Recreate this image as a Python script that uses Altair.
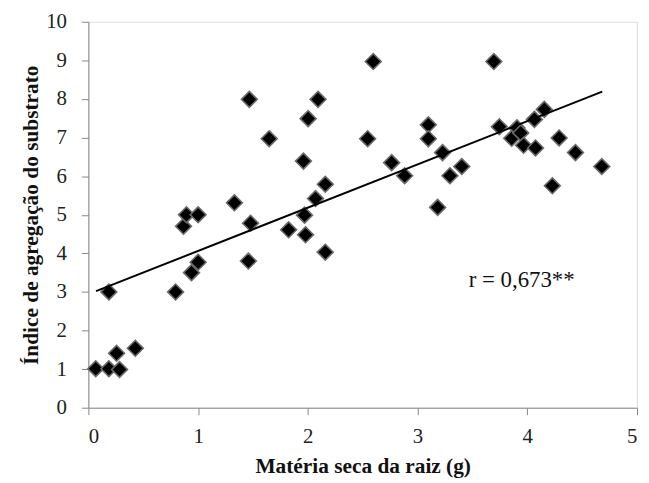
import altair as alt
import pandas as pd

# Matéria seca da raiz (g)
x_vals = [0.067, 0.187, 0.187, 0.257, 0.284, 0.428, 0.795, 0.94, 1.0, 0.867,
          0.894, 1.0, 1.331, 1.458, 1.478, 1.467, 1.648, 1.825, 1.96, 1.97,
          1.979, 2.003, 2.07, 2.093, 2.159, 2.159, 2.545, 2.596, 2.764, 2.882,
          3.098, 3.098, 3.183, 3.228, 3.295, 3.403, 3.695, 3.745, 3.858, 3.906,
          3.94, 3.966, 4.065, 4.075, 4.155, 4.228, 4.29, 4.439, 4.679]
# Índice de agregação do substrato
y_vals = [1.01, 1.01, 3.0, 1.41, 0.99, 1.54, 3.0, 3.5, 3.77, 4.7,
          5.0, 5.0, 5.31, 3.80, 4.78, 7.99, 6.97, 4.61, 6.39, 4.99,
          4.48, 7.49, 5.42, 7.99, 5.79, 4.03, 6.97, 8.97, 6.35, 6.01,
          7.33, 6.97, 5.19, 6.61, 6.01, 6.25, 8.97, 7.28, 6.98, 7.25,
          7.12, 6.8, 7.47, 6.73, 7.73, 5.75, 6.99, 6.61, 6.25]

# regression line endpoints
line_x = [0.07, 4.683]
line_y = [3.02, 8.19]

label_text = ["r = 0,673**"]
label_x = [3.466]
label_y = [3.14]

x_ticks = [0, 1, 2, 3, 4, 5]
y_ticks = [0, 1, 2, 3, 4, 5, 6, 7, 8, 9, 10]

FONT = "Liberation Serif"

pts = pd.DataFrame({"x": x_vals, "y": y_vals})
ln = pd.DataFrame({"x": line_x, "y": line_y})
lab = pd.DataFrame({"x": label_x, "y": label_y, "t": label_text})

xscale = alt.Scale(domain=[0, 5], nice=False)
yscale = alt.Scale(domain=[0, 10], nice=False)

xaxis = alt.Axis(title="Matéria seca da raiz (g)", values=x_ticks,
                 format="d", labelOverlap=False, tickCount=6,
                 grid=False, domainColor="#888888", tickColor="#888888",
                 tickSize=7, labelFont=FONT, labelFontSize=21, labelColor="#222222",
                 labelPadding=11, titleFont=FONT, titleFontSize=21.5,
                 titleFontWeight="bold", titleColor="#111111", titlePadding=9)
yaxis = alt.Axis(title="Índice de agregação do substrato",
                 values=y_ticks, format="d", labelOverlap=False, tickCount=11,
                 grid=False, domainColor="#888888",
                 tickColor="#888888", tickSize=7, labelFont=FONT, labelFontSize=21,
                 labelColor="#222222", labelPadding=15, titleFont=FONT,
                 titleFontSize=21.5, titleFontWeight="bold", titleColor="#111111",
                 titlePadding=3)

points = alt.Chart(pts).mark_point(shape="diamond", size=255, filled=True,
                                   fill="#000000", stroke="#6a6a6a",
                                   strokeWidth=1.6, opacity=1).encode(
    x=alt.X("x:Q", scale=xscale, axis=xaxis),
    y=alt.Y("y:Q", scale=yscale, axis=yaxis),
)

line = alt.Chart(ln).mark_line(color="#000000", strokeWidth=2).encode(
    x=alt.X("x:Q", scale=xscale, axis=xaxis),
    y=alt.Y("y:Q", scale=yscale, axis=yaxis),
)

text = alt.Chart(lab).mark_text(align="left", baseline="alphabetic", font=FONT,
                                fontSize=23, color="#111111").encode(
    x=alt.X("x:Q", scale=xscale, axis=xaxis),
    y=alt.Y("y:Q", scale=yscale, axis=yaxis),
    text="t:N",
)

chart = alt.layer(points, line, text).properties(
    width=553, height=389,
    autosize=alt.AutoSizeParams(type="none"),
    padding={"left": 81, "top": 12, "right": 4, "bottom": 74},
).configure_view(stroke=None).configure(background="white")

chart.save("out.html", embed_options={"renderer": "svg", "actions": False})
